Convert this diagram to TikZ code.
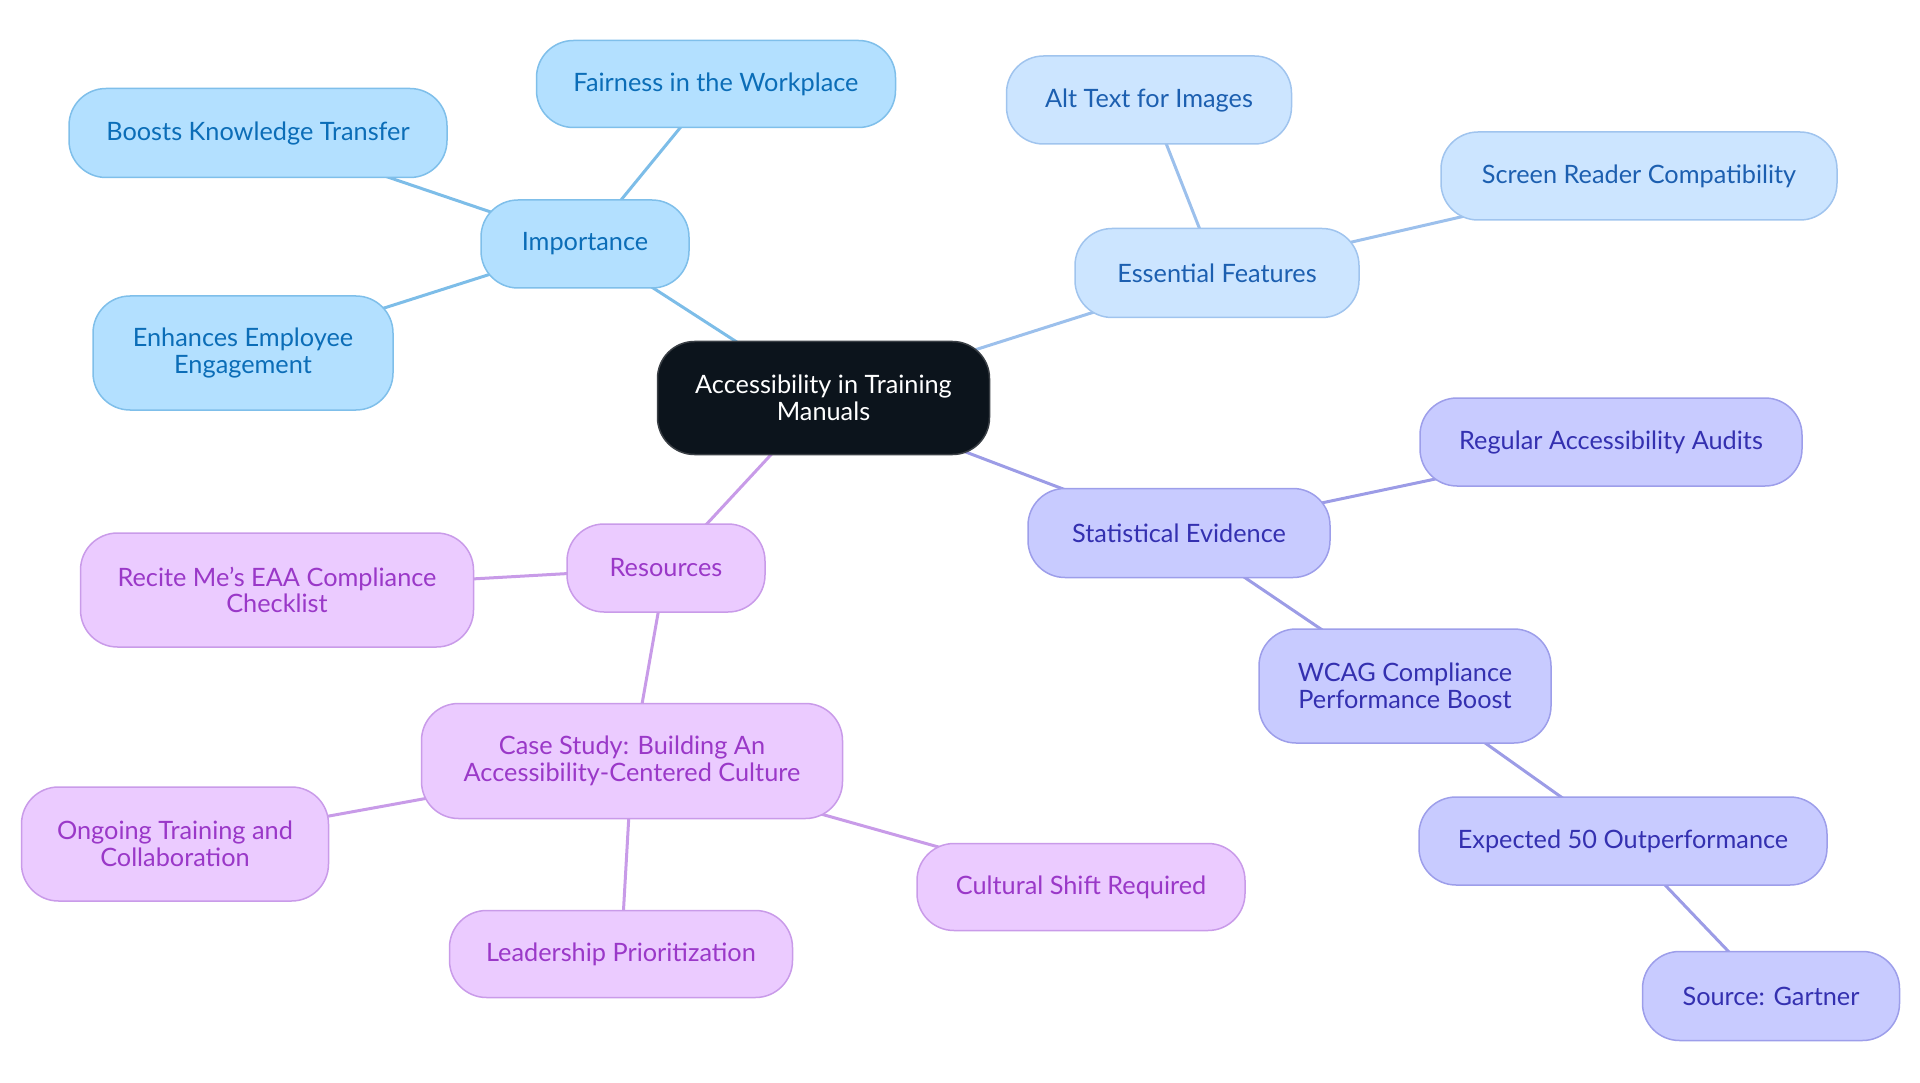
\documentclass[tikz,border=0pt]{standalone}
\usepackage{fontspec}
\setmainfont{Lato}
\usetikzlibrary{backgrounds}
\definecolor{cfill}{HTML}{0C141C}
\definecolor{cdraw}{HTML}{3A3F45}
\definecolor{ifill}{HTML}{B3E0FF}
\definecolor{idraw}{HTML}{7FBFEA}
\definecolor{itext}{HTML}{0B6DB7}
\definecolor{iedge}{HTML}{7DBDE8}
\definecolor{efill}{HTML}{CCE5FF}
\definecolor{edraw}{HTML}{A0C4EE}
\definecolor{etext}{HTML}{1C5FB0}
\definecolor{eedge}{HTML}{9CC0EC}
\definecolor{sfill}{HTML}{C8CBFF}
\definecolor{sdraw}{HTML}{9D9EEA}
\definecolor{stext}{HTML}{3430B0}
\definecolor{sedge}{HTML}{9C9CE6}
\definecolor{rfill}{HTML}{EBCBFF}
\definecolor{rdraw}{HTML}{C99BE9}
\definecolor{rtext}{HTML}{9A38C8}
\definecolor{redge}{HTML}{C89BE8}
\tikzset{
  base/.style={rounded corners=37pt, line width=1.5pt, align=center, inner sep=0pt,
    font=\fontsize{25.3}{26.5}\selectfont},
  cnode/.style={base, fill=cfill, draw=cdraw, text=white},
  inode/.style={base, fill=ifill, draw=idraw, text=itext},
  enode/.style={base, fill=efill, draw=edraw, text=etext},
  snode/.style={base, fill=sfill, draw=sdraw, text=stext},
  rnode/.style={base, fill=rfill, draw=rdraw, text=rtext},
  edge/.style={line width=3pt},
  sz/.style 2 args={minimum width=#1pt, minimum height=#2pt},
}
\begin{document}
\begin{tikzpicture}[x=1pt,y=-1pt]
\useasboundingbox (0,0) rectangle (1920,1083);
\node[cnode, sz={332}{113}] (center) at (823.5,398) {Accessibility in Training\\Manuals};
\node[inode, sz={208}{88}] (importance) at (585,244) {Importance};
\node[inode, sz={359}{87}] (fairness) at (716,84) {Fairness in the Workplace};
\node[inode, sz={378}{89}] (boosts) at (258,133) {Boosts Knowledge Transfer};
\node[inode, sz={300}{114}] (enhances) at (243,353) {Enhances Employee\\Engagement};
\node[enode, sz={284}{89}] (essential) at (1217,273) {Essential Features};
\node[enode, sz={285}{88}] (alttext) at (1149,100) {Alt Text for Images};
\node[enode, sz={396}{88}] (screen) at (1639,176) {Screen Reader Compatibility};
\node[snode, sz={302}{89}] (stat) at (1179,533) {Statistical Evidence};
\node[snode, sz={382}{88}] (audits) at (1611,442) {Regular Accessibility Audits};
\node[snode, sz={292}{114}] (wcag) at (1405,686) {WCAG Compliance\\Performance Boost};
\node[snode, sz={408}{88}] (expected) at (1623,841) {Expected 50 Outperformance};
\node[snode, sz={257}{89}] (source) at (1771,996) {Source: Gartner};
\node[rnode, sz={198}{88}] (resources) at (666,568) {Resources};
\node[rnode, sz={393}{114}] (recite) at (277,590) {Recite Me's EAA Compliance\\Checklist};
\node[rnode, sz={421}{115}] (case) at (632,761) {Case Study: Building An\\Accessibility-Centered Culture};
\node[rnode, sz={307}{114}] (ongoing) at (175,844) {Ongoing Training and\\Collaboration};
\node[rnode, sz={343}{87}] (leader) at (621,954) {Leadership Prioritization};
\node[rnode, sz={328}{87}] (cultural) at (1081,887) {Cultural Shift Required};
\begin{pgfonlayer}{background}
\draw[edge, iedge] (center.center) -- (importance.center);
\draw[edge, iedge] (importance.center) -- (fairness.center);
\draw[edge, iedge] (importance.center) -- (boosts.center);
\draw[edge, iedge] (importance.center) -- (enhances.center);
\draw[edge, eedge] (center.center) -- (essential.center);
\draw[edge, eedge] (essential.center) -- (alttext.center);
\draw[edge, eedge] (essential.center) -- (screen.center);
\draw[edge, sedge] (center.center) -- (stat.center);
\draw[edge, sedge] (stat.center) -- (audits.center);
\draw[edge, sedge] (stat.center) -- (wcag.center);
\draw[edge, sedge] (wcag.center) -- (expected.center);
\draw[edge, sedge] (expected.center) -- (source.center);
\draw[edge, redge] (center.center) -- (resources.center);
\draw[edge, redge] (resources.center) -- (recite.center);
\draw[edge, redge] (resources.center) -- (case.center);
\draw[edge, redge] (case.center) -- (ongoing.center);
\draw[edge, redge] (case.center) -- (leader.center);
\draw[edge, redge] (case.center) -- (cultural.center);
\end{pgfonlayer}
\end{tikzpicture}
\end{document}
